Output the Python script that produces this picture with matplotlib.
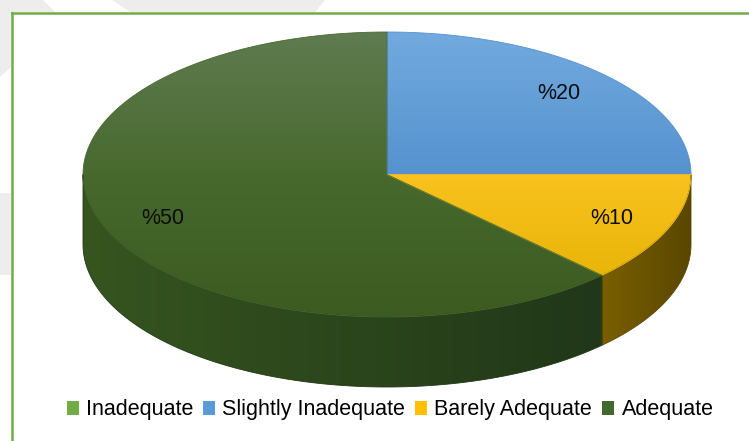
import numpy as np
import matplotlib
matplotlib.use("Agg")
import matplotlib.pyplot as plt
from matplotlib.patches import Polygon, Patch
from matplotlib.colors import LinearSegmentedColormap

# ---- data ----
categories = ["Inadequate", "Slightly Inadequate", "Barely Adequate", "Adequate"]
values = [0, 20, 10, 50]
value_labels = [f"%{v}" for v in values]

# ---- styling ----
legend_colors = ["#70AD47", "#5B9BD5", "#FFC000", "#43682B"]
top_shades = [
    ["#8CC168", "#70AD47", "#5E9A38"],
    ["#72AADE", "#5592CF", "#3C7CBF"],
    ["#FFD45E", "#F9C21E", "#E2B000"],
    ["#5F7B50", "#48692E", "#3B5B21"],
]
side_shades = [
    ["#4F7A32", "#3A5C24"],
    ["#2F5A87", "#1F4266"],
    ["#7A5F00", "#594600"],
    ["#36551F", "#213719"],
]
font_family = "Liberation Sans"
font_size = 15.5

W, H = 749, 441
fig = plt.figure(figsize=(W / 100, H / 100), dpi=100)
ax = fig.add_axes([0, 0, 1, 1])
ax.set_xlim(0, W)
ax.set_ylim(H, 0)
ax.axis("off")

# page decoration outside the green frame
gray = "#EDEDED"
for pts in ([(0, 0), (43, 0), (55, 12), (11, 12), (11, 67), (0, 77)],
            [(112, 0), (325, 0), (315, 12), (130, 12)],
            [(0, 193), (11, 193), (11, 275), (0, 275)]):
    ax.add_patch(Polygon(pts, closed=True, facecolor=gray, edgecolor="none", zorder=0))
frame = "#70AD47"
ax.plot([12, 12], [H + 5, 13], color=frame, lw=1.8, solid_capstyle="projecting", zorder=1)
ax.plot([12, W + 5], [13, 13], color=frame, lw=1.8, solid_capstyle="projecting", zorder=1)

# ---- 3D pie geometry ----
cx, cy, rx, ry, depth = 387, 174.5, 304, 142.5, 70

vals = np.array(values, dtype=float)
frac = vals / vals.sum()
bounds = 90 - 360 * np.concatenate([[0], np.cumsum(frac)])


def rim(t_deg):
    t = np.radians(t_deg)
    return cx + rx * np.cos(t), cy - ry * np.sin(t)


def gradient_fill(poly_pts, colors, direction):
    poly_pts = np.asarray(poly_pts)
    patch = Polygon(poly_pts, closed=True, facecolor="none", edgecolor="none")
    ax.add_patch(patch)
    cmap = LinearSegmentedColormap.from_list("g", colors)
    x0, x1 = poly_pts[:, 0].min(), poly_pts[:, 0].max()
    y0, y1 = poly_pts[:, 1].min(), poly_pts[:, 1].max()
    if direction == "v":
        arr = np.linspace(0, 1, 256)[:, None]
        x0, x1, y0, y1 = cx - rx, cx + rx, cy - ry, cy + ry
    else:
        arr = np.linspace(0, 1, 256)[None, :]
    im = ax.imshow(arr, cmap=cmap, extent=(x0, x1, y1, y0), origin="upper",
                   aspect="auto", interpolation="bilinear", zorder=2)
    im.set_clip_path(patch)
    # soft edge to hide clipping jaggies
    ax.add_patch(Polygon(poly_pts, closed=True, facecolor="none",
                         edgecolor=colors[len(colors) // 2], lw=0.6, zorder=2.5))


# side walls (front half only)
for i in range(len(values)):
    a0, a1 = bounds[i], bounds[i + 1]
    if a0 == a1:
        continue
    for k in range(-2, 2):
        lo = max(a1, -180 + 360 * k)
        hi = min(a0, 360 * k)
        if hi <= lo:
            continue
        t = np.linspace(hi, lo, 120)
        xs, ys = rim(t)
        pts = np.concatenate([np.column_stack([xs, ys]),
                              np.column_stack([xs[::-1], ys[::-1] + depth])])
        gradient_fill(pts, side_shades[i], "h")

# top faces
for i in range(len(values)):
    a0, a1 = bounds[i], bounds[i + 1]
    if a0 == a1:
        continue
    t = np.linspace(a0, a1, 200)
    xs, ys = rim(t)
    pts = np.vstack([[cx, cy], np.column_stack([xs, ys])])
    gradient_fill(pts, top_shades[i], "v")

# value labels
for i in range(len(values)):
    if values[i] == 0:
        continue
    mid = np.radians((bounds[i] + bounds[i + 1]) / 2)
    lx = cx + 0.8 * rx * np.cos(mid)
    ly = cy - 0.8 * ry * np.sin(mid)
    ax.text(lx, ly, value_labels[i], ha="center", va="center", fontsize=font_size,
            family=font_family, color="#0D0D0D", zorder=5)

ax.set_xlim(0, W)
ax.set_ylim(H, 0)

# legend
handles = [Patch(facecolor=c, edgecolor="none") for c in legend_colors]
fig.legend(handles, categories, loc="center", bbox_to_anchor=(390 / W, 1 - 410 / H),
           ncol=4, frameon=False, prop={"family": font_family, "size": font_size},
           handlelength=0.56, handleheight=0.62, handletextpad=0.33, columnspacing=0.47,
           borderaxespad=0)

fig.savefig("out.png", dpi=100)
